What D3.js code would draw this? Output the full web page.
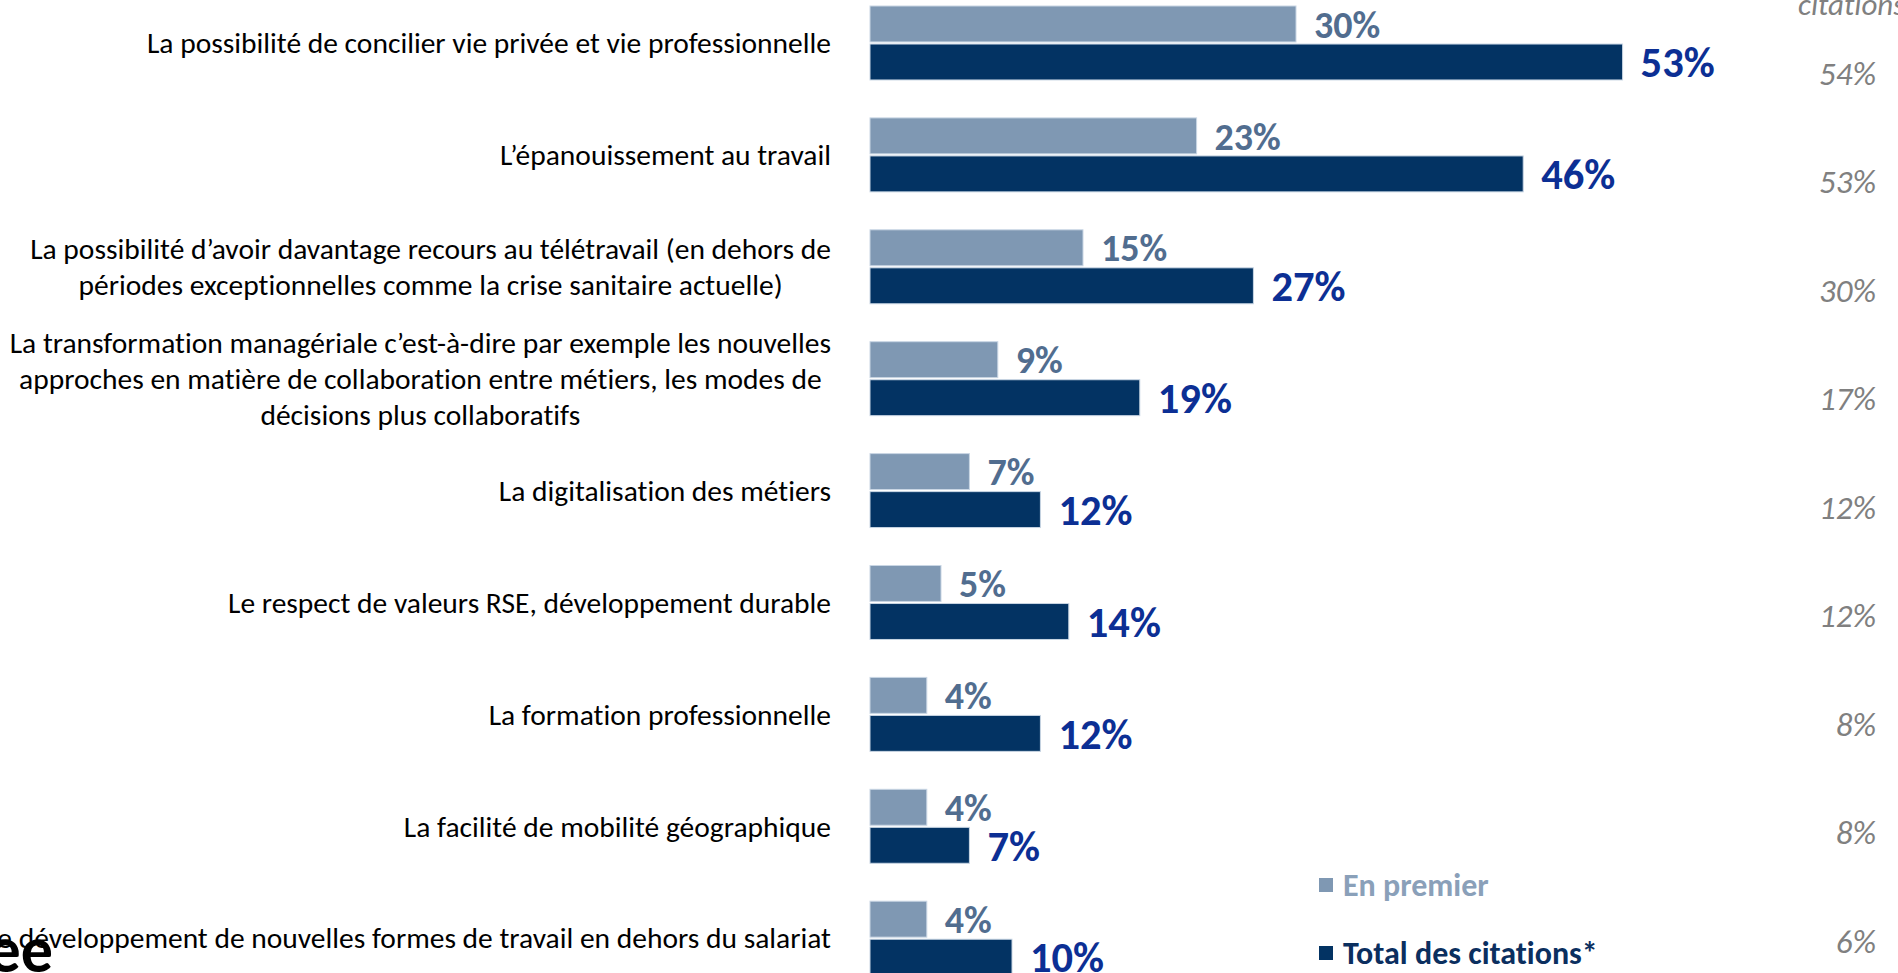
<!DOCTYPE html>
<html>
<head>
<meta charset="utf-8">
<script src="https://cdn.jsdelivr.net/npm/d3@7"></script>
<style>
  body { margin: 0; background: #fff; overflow: hidden; }
  text { font-family: Carlito, Calibri, Lato, "Open Sans", sans-serif; font-variant-ligatures: none; }
</style>
</head>
<body>
<svg id="chart"></svg>
<script>
// --- data ---
var categories = [
  ["La possibilité de concilier vie privée et vie professionnelle"],
  ["L’épanouissement au travail"],
  ["La possibilité d’avoir davantage recours au télétravail (en dehors de",
   "périodes exceptionnelles comme la crise sanitaire actuelle)"],
  ["La transformation managériale c’est-à-dire par exemple les nouvelles",
   "approches en matière de collaboration entre métiers, les modes de",
   "décisions plus collaboratifs"],
  ["La digitalisation des métiers"],
  ["Le respect de valeurs RSE, développement durable"],
  ["La formation professionnelle"],
  ["La facilité de mobilité géographique"],
  ["Le développement de nouvelles formes de travail en dehors du salariat"]
]
var enPremier = [30, 23, 15, 9, 7, 5, 4, 4, 4]
var totalCitations = [53, 46, 27, 19, 12, 14, 12, 7, 10]
var previousTotal = [54, 53, 30, 17, 12, 12, 8, 8, 6]
var seriesNames = ["En premier", "Total des citations*"]
var previousHeader = "citations"

// --- layout ---
var W = 1898, H = 973
var lightColor = "#7f98b3", darkColor = "#033363"
var labelRight = 831

var svg = d3.select("#chart").attr("width", W).attr("height", H)

var idx = d3.range(categories.length)
var step = 111.9, pad = 0.339
var y0 = 6 - step * pad / 2
var y = d3.scaleBand().domain(idx)
    .range([y0, y0 + categories.length * step])
    .paddingInner(pad).paddingOuter(pad / 2)
var ySub = d3.scaleBand().domain([0, 1]).range([0, y.bandwidth()]).paddingInner(0.055)
var x = d3.scaleLinear().domain([0, 60]).range([870, 870 + 60 * 14.2])
var yPrev = d3.scalePoint().domain(idx).range([73, 941])

var rows = idx.map(function (i) {
  return { i: i, lines: categories[i], v: [enPremier[i], totalCitations[i]], prev: previousTotal[i] }
})

var g = svg.selectAll("g.row").data(rows).enter().append("g")
    .attr("class", "row")
    .attr("transform", function (d) { return "translate(0," + y(d.i) + ")" })

// bars
g.selectAll("rect").data(function (d) { return d.v }).enter().append("rect")
    .attr("x", x(0))
    .attr("y", function (v, k) { return ySub(k) })
    .attr("width", function (v) { return x(v) - x(0) })
    .attr("height", ySub.bandwidth())
    .attr("fill", function (v, k) { return k === 0 ? lightColor : darkColor })
    .attr("stroke", "#c9d6e4")
    .attr("stroke-width", 1)

// value labels
g.selectAll("text.val").data(function (d) { return d.v }).enter().append("text")
    .attr("class", "val")
    .attr("x", function (v) { return x(v) + 18 })
    .attr("y", function (v, k) { return ySub(k) + ySub.bandwidth() / 2 })
    .attr("dy", "0.36em")
    .attr("font-weight", "bold")
    .attr("font-size", function (v, k) { return k === 0 ? 38 : 42.5 })
    .attr("fill", function (v, k) { return k === 0 ? "#516d8f" : "#0c2f94" })
    .text(function (v) { return v + "%" })

// category labels (multi-line centred, block right-aligned)
var lineH = 36
g.each(function (d) {
  var cg = d3.select(this).append("g")
  var n = d.lines.length
  var mid = y.bandwidth() / 2
  var ts = cg.selectAll("text").data(d.lines).enter().append("text")
      .attr("y", function (l, j) { return mid + (j - (n - 1) / 2) * lineH })
      .attr("dy", "0.35em")
      .attr("font-size", 29.5)
      .attr("fill", "#000")
      .text(function (l) { return l })
  var maxW = 0
  ts.each(function () { maxW = Math.max(maxW, this.getComputedTextLength()) })
  ts.attr("text-anchor", "middle").attr("x", labelRight - maxW / 2)
})

// previous wave column
svg.selectAll("text.prev").data(rows).enter().append("text")
    .attr("class", "prev")
    .attr("x", 1876)
    .attr("y", function (d) { return yPrev(d.i) })
    .attr("dy", "0.35em")
    .attr("text-anchor", "end")
    .attr("font-style", "italic")
    .attr("font-size", 33)
    .attr("fill", "#808080")
    .text(function (d) { return d.prev + "%" })

svg.append("text")
    .attr("x", 1798).attr("y", 15)
    .attr("font-style", "italic")
    .attr("font-size", 31)
    .attr("fill", "#808080")
    .text(previousHeader)

// legend
var legendY = d3.scalePoint().domain([0, 1]).range([885, 953])
var lg = svg.selectAll("g.legend").data(seriesNames).enter().append("g")
    .attr("class", "legend")
    .attr("transform", function (s, k) { return "translate(1319," + legendY(k) + ")" })
lg.append("rect")
    .attr("x", 0).attr("y", -7).attr("width", 14).attr("height", 14)
    .attr("fill", function (s, k) { return k === 0 ? lightColor : darkColor })
lg.append("text")
    .attr("x", 24).attr("dy", "0.35em")
    .attr("font-weight", "bold")
    .attr("font-size", 32)
    .attr("fill", function (s, k) { return k === 0 ? "#8aa0b9" : "#0b2f5f" })
    .text(function (s) { return s })

// cut-off logo fragment at bottom left
svg.append("text")
    .attr("x", 53).attr("y", 972)
    .attr("text-anchor", "end")
    .attr("font-family", "Liberation Sans, Arial, sans-serif")
    .attr("font-weight", "bold")
    .attr("font-size", 64)
    .attr("fill", "#000")
    .text("ee")
</script>
</body>
</html>
